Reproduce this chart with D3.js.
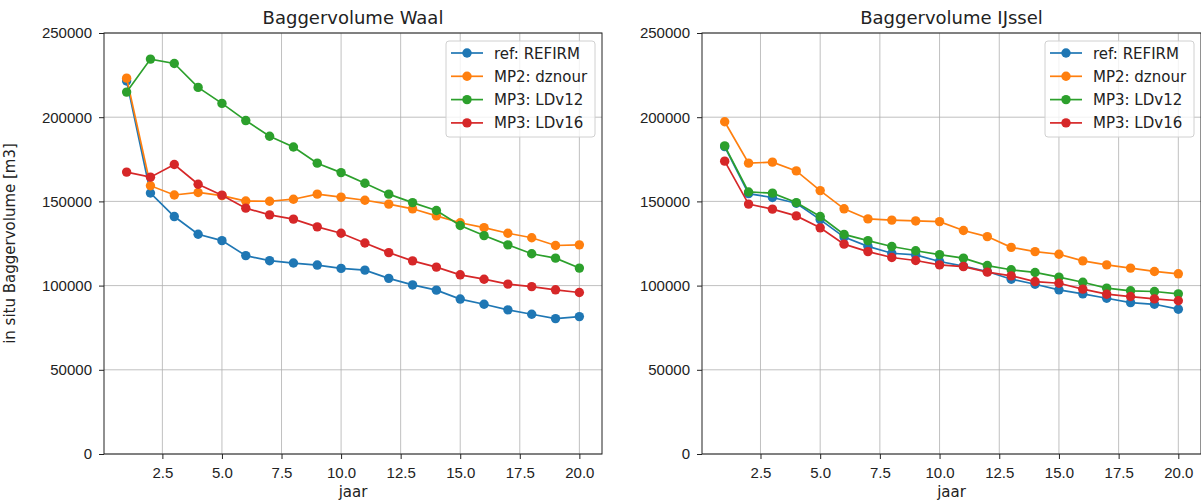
<!DOCTYPE html>
<html>
<head>
<meta charset="utf-8">
<script src="https://cdn.jsdelivr.net/npm/d3@7"></script>
<style>
  body { margin: 0; background: #fff; }
  svg { display: block; font-family: "DejaVu Sans", sans-serif; }
  .tick text { font-size: 15px; fill: #222; }
  .tick line { stroke: #222; }
  .grid line { stroke: #b0b0b0; stroke-width: 0.8; }
</style>
</head>
<body>
<div id="chart"></div>
<script>
// jaar 1..20
var years = d3.range(1, 21);
var seriesNames = ["ref: REFIRM", "MP2: dznour", "MP3: LDv12", "MP3: LDv16"];
var colors = ["#1f77b4", "#ff7f0e", "#2ca02c", "#d62728"];
var yTicks = [0, 50000, 100000, 150000, 200000, 250000];
var xTicks = [2.5, 5.0, 7.5, 10.0, 12.5, 15.0, 17.5, 20.0];

var waalRef    = [221500, 155000, 141000, 130500, 126700, 117800, 114800, 113400, 112200, 110200, 109200, 104300, 100400, 97300, 92000, 88900, 85600, 83000, 80400, 81600];
var waalDznour = [223200, 159300, 153800, 155300, 153400, 150200, 150100, 151300, 154300, 152500, 150700, 148400, 145600, 141400, 137300, 134400, 131100, 128400, 123800, 124200];
var waalLDv12  = [214900, 234500, 231900, 217700, 208200, 198000, 188700, 182300, 172700, 167100, 160800, 154300, 149300, 144600, 135700, 129700, 124200, 118900, 116300, 110400];
var waalLDv16  = [167400, 164400, 171900, 160200, 153700, 146000, 142000, 139500, 134900, 131100, 125300, 119600, 114700, 111000, 106400, 103800, 100900, 99400, 97500, 95900];

var ijsRef    = [182500, 154600, 152300, 148900, 139200, 128800, 123300, 119200, 118200, 114300, 111600, 108400, 103800, 100800, 97500, 95100, 92500, 89900, 88900, 86000];
var ijsDznour = [197300, 172700, 173300, 168100, 156400, 145600, 139600, 138900, 138400, 138000, 132700, 129100, 122700, 120200, 118600, 114700, 112300, 110400, 108400, 107000];
var ijsLDv12  = [183000, 155600, 154900, 149300, 141000, 130400, 126700, 123200, 120700, 118400, 116300, 111900, 109400, 107800, 105000, 102000, 98500, 96900, 96500, 95100];
var ijsLDv16  = [173900, 148400, 145400, 141400, 134300, 124600, 120200, 116700, 114900, 112300, 111300, 108000, 105800, 102400, 101400, 97900, 94900, 93500, 92100, 91000];

var W = 1201, H = 501;
var svg = d3.select("#chart").append("svg").attr("width", W).attr("height", H);

function panel(left, width, title, data, yLabel) {
  var top = 33, bottom = 454;
  var x = d3.scaleLinear().domain([0.05, 20.95]).range([left, left + width]);
  var y = d3.scaleLinear().domain([0, 250000]).range([bottom, top]);
  var g = svg.append("g");

  // grid
  var grid = g.append("g").attr("class", "grid");
  grid.selectAll(".gx").data(xTicks).enter().append("line")
    .attr("x1", function(d) { return x(d); }).attr("x2", function(d) { return x(d); })
    .attr("y1", top).attr("y2", bottom);
  grid.selectAll(".gy").data(yTicks).enter().append("line")
    .attr("y1", function(d) { return y(d); }).attr("y2", function(d) { return y(d); })
    .attr("x1", left).attr("x2", left + width);

  var xa = g.append("g").attr("transform", "translate(0," + bottom + ")")
    .call(d3.axisBottom(x).tickValues(xTicks).tickFormat(d3.format(".1f")).tickSize(5).tickPadding(8));
  var ya = g.append("g").attr("transform", "translate(" + left + ",0)")
    .call(d3.axisLeft(y).tickValues(yTicks).tickFormat(d3.format("d")).tickSize(5).tickPadding(7));
  xa.select(".domain").remove();
  ya.select(".domain").remove();

  // frame
  g.append("rect").attr("x", left).attr("y", top).attr("width", width).attr("height", bottom - top)
    .attr("fill", "none").attr("stroke", "#222").attr("stroke-width", 1);

  var line = d3.line().x(function(d, i) { return x(years[i]); }).y(function(d) { return y(d); });
  data.forEach(function(vals, k) {
    g.append("path").datum(vals).attr("d", line)
      .attr("fill", "none").attr("stroke", colors[k]).attr("stroke-width", 1.7);
    g.selectAll(".pt" + k).data(vals).enter().append("circle")
      .attr("cx", function(d, i) { return x(years[i]); })
      .attr("cy", function(d) { return y(d); })
      .attr("r", 4.7).attr("fill", colors[k]);
  });

  g.append("text").attr("x", left + width / 2).attr("y", 24).attr("text-anchor", "middle")
    .style("font-size", "18px").attr("fill", "#222").text(title);
  g.append("text").attr("x", left + width / 2).attr("y", 497).attr("text-anchor", "middle")
    .style("font-size", "15px").attr("fill", "#222").text("jaar");
  if (yLabel) {
    g.append("text").attr("transform", "translate(15," + ((top + bottom) / 2) + ") rotate(-90)")
      .attr("text-anchor", "middle").style("font-size", "15px").attr("fill", "#222").text(yLabel);
  }

  // legend
  var lx = left + width - 156, ly = 41;
  var leg = g.append("g");
  leg.append("rect").attr("x", lx).attr("y", ly).attr("width", 149).attr("height", 96).attr("rx", 3)
    .attr("fill", "#fff").attr("fill-opacity", 0.8).attr("stroke", "#d0d0d0");
  seriesNames.forEach(function(name, k) {
    var cy = ly + 12 + k * 23.3;
    leg.append("line").attr("x1", lx + 5).attr("x2", lx + 37).attr("y1", cy).attr("y2", cy)
      .attr("stroke", colors[k]).attr("stroke-width", 1.7);
    leg.append("circle").attr("cx", lx + 21).attr("cy", cy).attr("r", 4.7).attr("fill", colors[k]);
    leg.append("text").attr("x", lx + 48).attr("y", cy + 5.5).style("font-size", "15px")
      .attr("fill", "#222").text(name);
  });
}

panel(104, 498, "Baggervolume Waal", [waalRef, waalDznour, waalLDv12, waalLDv16], "in situ Baggervolume [m3]");
panel(702, 499, "Baggervolume IJssel", [ijsRef, ijsDznour, ijsLDv12, ijsLDv16], null);
</script>
</body>
</html>
